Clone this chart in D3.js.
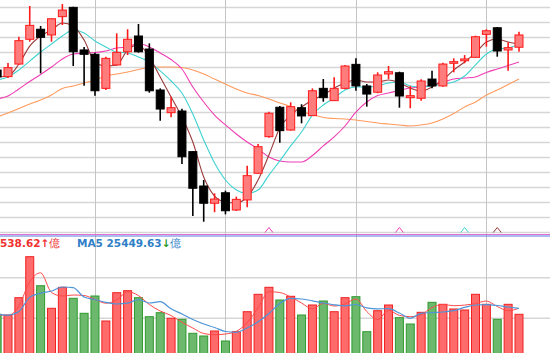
<!DOCTYPE html>
<html>
<head>
<meta charset="utf-8">
<script src="https://cdn.jsdelivr.net/npm/d3@7"></script>
<style>
  body { margin: 0; background: #fff; }
  svg { display: block; }
  .lbl { font-family: "DejaVu Sans", sans-serif; font-weight: bold; font-size: 10.5px; }
</style>
</head>
<body>
<svg id="chart" width="550" height="353"></svg>
<script>
// candle data, first entry is the day partly cut off at the left edge (index -1)
const opens = [26383,26339,26423,26588,26655,26617,26739,26801,26517,26488,26261,26417,26505,26610,26523,26250,26099,26110,25839,25610,25495,25565,25450,25517,25695,25939,26135,25983,26132,26079,26261,26179,26261,26421,26277,26235,26357,26365,26199,26195,26323,26277,26428,26445,26468,26621,26665,26517,26535]
const highs = [26410,26430,26605,26810,26677,26727,26823,26805,26537,26499,26472,26628,26655,26690,26561,26261,26205,26125,25841,25650,25561,25579,25539,25745,25890,26105,26143,26168,26155,26261,26323,26335,26417,26461,26290,26368,26410,26372,26277,26321,26379,26432,26461,26483,26612,26655,26670,26568,26639]
const lows = [26317,26330,26417,26572,26361,26572,26683,26410,26279,26212,26250,26412,26483,26499,26232,26045,26068,25757,25410,25372,25435,25421,25443,25468,25690,25932,25899,25979,26028,26077,26172,26177,26255,26245,26139,26228,26323,26132,26128,26179,26261,26272,26368,26428,26465,26539,26472,26379,26505]
const closes = [26337,26399,26579,26681,26601,26725,26783,26505,26488,26245,26461,26501,26588,26505,26245,26123,26132,25805,25595,25495,25523,25445,25521,25679,25872,26095,25979,26139,26077,26245,26199,26261,26410,26277,26223,26350,26372,26210,26212,26310,26277,26423,26439,26457,26605,26645,26510,26532,26617]

// moving averages
const ma5 = [26337,26343,26423,26543,26610,26650,26697,26677,26583,26437,26410,26417,26517,26550,26470,26337,26203,26070,25903,25670,25543,25503,25497,25537,25650,25817,25997,26083,26137,26183,26217,26263,26297,26317,26303,26303,26317,26297,26263,26243,26270,26317,26383,26437,26497,26570,26590,26570,26557]
const ma10 = [26317,26337,26383,26443,26503,26557,26610,26650,26630,26577,26537,26503,26497,26470,26437,26377,26310,26230,26090,25917,25763,25650,25583,25560,25583,25683,25777,25877,25970,26083,26150,26197,26250,26270,26270,26277,26297,26303,26277,26270,26277,26290,26303,26343,26417,26490,26523,26530,26557]
const ma20 = [26190,26210,26257,26307,26353,26403,26457,26490,26497,26500,26510,26530,26537,26560,26537,26497,26453,26390,26270,26170,26083,26017,25957,25903,25857,25803,25777,25770,25770,25813,25877,25937,26010,26103,26170,26213,26230,26247,26263,26270,26283,26303,26323,26330,26337,26367,26390,26413,26437]
const ma60 = [26070,26097,26127,26157,26183,26217,26260,26277,26297,26317,26343,26357,26370,26387,26400,26403,26403,26400,26383,26357,26323,26290,26257,26230,26213,26190,26163,26140,26103,26087,26067,26060,26057,26050,26040,26030,26023,26017,26010,26017,26030,26057,26093,26137,26170,26217,26250,26287,26323]

// volume (億) and its direction, 1 = up / red, 0 = down / green
const volumes = [21970,21625,30147,50344,36058,24926,35270,29852,22463,30985,18670,32610,33595,30147,20788,22758,20000,19507,12611,11280,13744,8818,13399,23251,31822,35270,29014,30837,21625,26551,28522,23251,30147,30640,13399,23743,26551,20295,17192,22955,27881,26896,24581,24088,31822,26896,19507,26896,21970]
const volUp = [0,1,1,1,0,1,1,0,0,0,1,1,1,0,0,0,1,0,0,0,1,0,1,1,1,1,0,1,0,1,0,1,1,0,0,1,1,0,0,1,0,1,1,1,1,1,0,1,1]
const volRed = [21625,21379,26059,38078,42413,32709,30985,31477,31231,29310,27438,29014,33103,31182,26797,23596,21379,18029,15221,12512,11921,12266,13596,17832,25172,33103,32709,30492,27536,24679,27339,26059,27044,29507,23349,19408,23940,21428,20788,21871,25270,26797,26206,26502,27290,28522,25812,23743,24926]
const volMa5 = [21970,21527,23349,30393,32364,33448,35418,35073,30492,29260,27832,27044,27438,29260,27536,28177,24679,22118,19408,17192,15468,13497,13103,15221,18275,22364,27339,29852,29507,28620,27536,26650,26157,26797,25172,24679,24729,22610,20000,22463,22807,23103,23743,25369,26551,26748,26305,25566,24926]

const priceTicks = d3.range(25300, 26801, 100)
const volTicks = [20000, 40000]
const gridDays = [8, 20, 32, 44]
// cross markers: day index and which MA
const markers = [{ day: 24, key: 'ma20' }, { day: 36, key: 'ma20' }, { day: 42, key: 'ma10' }, { day: 45, key: 'ma5' }]
const volLabel = '538.62', volMaLabel = 'MA5 25449.63'

const colors = { ma5: '#9b3a3a', ma10: '#3fd2d2', ma20: '#f03cb4', ma60: '#ff9a5c' }

const W = 550, H = 353
const svg = d3.select('#chart')

const days = d3.range(-1, 48)
const x = d3.scaleLinear().domain([0, 47]).range([8, 519])
const y = d3.scaleLinear().domain([25400, 26800]).range([217.5, 7.5])
const yv = d3.scaleLinear().domain([0, 60000]).range([358.9, 237.1])
const bw = 8

// grid
svg.append('g').selectAll('line').data(priceTicks).enter().append('line')
  .attr('x1', 0).attr('x2', W)
  .attr('y1', d => y(d)).attr('y2', d => y(d))
  .attr('stroke', '#d6d6d6').attr('stroke-width', 1.5)

svg.append('g').selectAll('line').data(volTicks).enter().append('line')
  .attr('x1', 0).attr('x2', W)
  .attr('y1', d => yv(d)).attr('y2', d => yv(d))
  .attr('stroke', '#d6d6d6').attr('stroke-width', 1.5)

svg.append('g').selectAll('line').data(gridDays).enter().append('line')
  .attr('x1', d => Math.round(x(d)) + 0.5).attr('x2', d => Math.round(x(d)) + 0.5)
  .attr('y1', 0).attr('y2', H)
  .attr('stroke', '#c4c4c4').attr('stroke-width', 1)

// panel separator
svg.append('line').attr('x1', 0).attr('x2', W).attr('y1', 234.5).attr('y2', 234.5)
  .attr('stroke', '#e070d0').attr('stroke-width', 1)
svg.append('line').attr('x1', 0).attr('x2', W).attr('y1', 236).attr('y2', 236)
  .attr('stroke', '#5a78e0').attr('stroke-width', 1)

// volume bars
svg.append('g').selectAll('rect').data(days).enter().append('rect')
  .attr('x', d => x(d) - bw / 2)
  .attr('y', (d, k) => yv(volumes[k]))
  .attr('width', bw)
  .attr('height', (d, k) => yv(0) - yv(volumes[k]))
  .attr('fill', (d, k) => volUp[k] ? '#ff6a6a' : '#6cb86c')
  .attr('stroke', (d, k) => volUp[k] ? '#f02020' : '#2f9a2f')
  .attr('stroke-width', 1)

const volLine = arr => d3.line().x(d => x(d)).y((d, k) => yv(arr[k])).curve(d3.curveMonotoneX)
svg.append('path').datum(days).attr('d', volLine(volRed))
  .attr('fill', 'none').attr('stroke', '#ff4a4a').attr('stroke-width', 1)
svg.append('path').datum(days).attr('d', volLine(volMa5))
  .attr('fill', 'none').attr('stroke', '#4d94d8').attr('stroke-width', 1.2)

// MA lines behind candles
const maLine = arr => d3.line().x(d => x(d)).y((d, k) => y(arr[k])).curve(d3.curveMonotoneX)
const mas = { ma60: ma60, ma20: ma20, ma10: ma10, ma5: ma5 }
Object.keys(mas).forEach(key => {
  svg.append('path').datum(days).attr('d', maLine(mas[key]))
    .attr('fill', 'none').attr('stroke', colors[key]).attr('stroke-width', 1.1)
})

// candles
const candles = svg.append('g').selectAll('g').data(days).enter().append('g')
candles.append('line')
  .attr('x1', d => x(d)).attr('x2', d => x(d))
  .attr('y1', (d, k) => y(highs[k])).attr('y2', (d, k) => y(lows[k]))
  .attr('stroke', (d, k) => closes[k] >= opens[k] ? '#ff1a1a' : '#000')
  .attr('stroke-width', 1.6)
candles.append('rect')
  .attr('x', d => x(d) - bw / 2)
  .attr('y', (d, k) => y(Math.max(opens[k], closes[k])))
  .attr('width', bw)
  .attr('height', (d, k) => Math.max(1.5, Math.abs(y(opens[k]) - y(closes[k]))))
  .attr('fill', (d, k) => closes[k] >= opens[k] ? '#ff7c7c' : '#000')
  .attr('stroke', (d, k) => closes[k] >= opens[k] ? '#ff1a1a' : '#000')
  .attr('stroke-width', 1)

// cross markers
svg.append('g').selectAll('path').data(markers).enter().append('path')
  .attr('d', d => `M${x(d.day) - 4},232.5 L${x(d.day)},227.5 L${x(d.day) + 4},232.5`)
  .attr('fill', 'none').attr('stroke', d => colors[d.key]).attr('stroke-width', 1)

// labels
const t1 = svg.append('text').attr('class', 'lbl').attr('x', 0).attr('y', 246.5)
t1.append('tspan').attr('fill', '#f03030').text(volLabel)
t1.append('tspan').attr('fill', '#f03030').text('↑')
t1.append('tspan').attr('fill', '#f03030').attr('font-weight', 'normal').text('億')

const t2 = svg.append('text').attr('class', 'lbl').attr('x', 77).attr('y', 246.5)
t2.append('tspan').attr('fill', '#2f7fc8').text(volMaLabel)
t2.append('tspan').attr('fill', '#2a9a2a').text('↓')
t2.append('tspan').attr('fill', '#2f7fc8').attr('font-weight', 'normal').text('億')
</script>
</body>
</html>
